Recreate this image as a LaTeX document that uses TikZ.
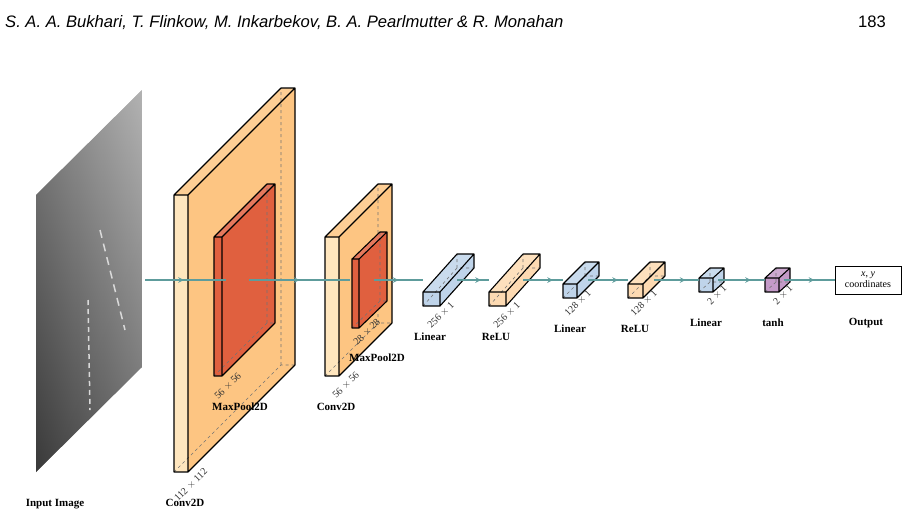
\documentclass[tikz,border=0pt]{standalone}
\usepackage{fontspec}
\setmainfont{Liberation Serif}
\newfontfamily\hdrfont{Liberation Sans}
\usetikzlibrary{calc,decorations.markings}
\definecolor{convfront}{HTML}{FFE6BE}
\definecolor{convside}{HTML}{FDC582}
\definecolor{poolc}{HTML}{E0603F}
\definecolor{linc}{HTML}{BFD4EA}
\definecolor{reluc}{HTML}{FDDAB2}
\definecolor{tanhc}{HTML}{C49AC8}
\definecolor{conn}{HTML}{5E9C9C}
\newcommand\mycub[9]{% name x y w h dx dy front side
 \coordinate (#1A) at (#2,#3);
 \coordinate (#1B) at ($(#1A)+(#4,0)$);
 \coordinate (#1C) at ($(#1B)+(0,#5)$);
 \coordinate (#1D) at ($(#1A)+(0,#5)$);
 \coordinate (#1a) at ($(#1A)+(#6,-#7)$);
 \coordinate (#1b) at ($(#1B)+(#6,-#7)$);
 \coordinate (#1c) at ($(#1C)+(#6,-#7)$);
 \coordinate (#1d) at ($(#1D)+(#6,-#7)$);
 \fill[#9] (#1B)--(#1b)--(#1c)--(#1C)--cycle;
 \fill[#9!85!white] (#1A)--(#1a)--(#1b)--(#1B)--cycle;
 \fill[#8] (#1A)--(#1B)--(#1C)--(#1D)--cycle;
 \draw[hid] (#1D)--(#1d)--(#1c) (#1d)--(#1a);
 \draw[edge] (#1A)--(#1B)--(#1C)--(#1D)--cycle (#1A)--(#1a)--(#1b)--(#1c)--(#1C) (#1B)--(#1b);
}
\tikzset{
 hid/.style={dashed,black!55,line width=0.6pt},
 edge/.style={black,line width=1.1pt,line join=round},
 lab/.style={font=\fontsize{11}{13}\selectfont\bfseries,inner sep=0},
 dim/.style={font=\fontsize{10}{12}\selectfont,rotate=45,inner sep=0,black!80},
 con/.style={conn,line width=1.5pt,postaction={decorate},decoration={markings,mark=at position #1 with {\arrow[conn]{stealth}}}},
 con/.default=0.5
}
\begin{document}
\begin{tikzpicture}[x=1pt,y=-1pt]
\useasboundingbox (0,0) rectangle (917,517);
\node[anchor=base west,inner sep=0,font=\hdrfont\itshape\fontsize{16.6}{18}\selectfont] (hdr) at (5,27) {S. A. A. Bukhari, T. Flinkow, M. Inkarbekov, B. A. Pearlmutter \& R. Monahan};
\node[anchor=base east,inner sep=0,font=\hdrfont\fontsize{16.6}{18}\selectfont] (pg) at (886,27) {183};
% input image
\begin{scope}
\clip (36,195)--(142,90)--(142,367)--(36,472)--cycle;
\shade[left color=black!80,right color=black!40] (36,90) rectangle (142,472);
\shade[top color=black!20,bottom color=black!75,opacity=0.5] (36,90) rectangle (142,472);
\draw[white!85!black,line width=1.5pt,dash pattern=on 5pt off 4pt] (88,300)--(90,410);
\draw[white!85!black,line width=1.5pt,dash pattern=on 8pt off 6pt] (100,230)--(125,330);
\end{scope}
\coordinate (img) at (145,280);
\mycub{cv}{174}{195}{14}{277}{107}{107}{convfront}{convside}
\mycub{mp}{214}{237}{8}{139}{53}{53}{poolc}{poolc}
\mycub{cvb}{325}{237}{14}{139}{53}{53}{convfront}{convside}
\mycub{mpb}{352}{259}{7}{69}{28}{27}{poolc}{poolc}
\coordinate (c1e) at (226,280);
\coordinate (c2s) at (249,280);
\coordinate (c2e) at (350,280);
\coordinate (c3s) at (374,280);
\draw[con=0.48] (img)--(c1e);
\draw[con=0.5] (c2s)--(c2e);
\mycub{l1}{423}{292}{17}{14}{34}{38}{linc}{linc}
\mycub{r1}{489}{292}{17}{14}{34}{38}{reluc}{reluc}
\mycub{l2}{563}{284}{14}{14}{22}{22}{linc}{linc}
\mycub{r2}{628}{284}{15}{14}{22}{22}{reluc}{reluc}
\mycub{l3}{699}{278}{14}{14}{11}{10}{linc}{linc}
\mycub{th}{765}{278}{14}{14}{11}{10}{tanhc}{tanhc}
\node[draw,line width=0.8pt,minimum width=66pt,minimum height=28pt,inner sep=1pt,align=center,font=\fontsize{10}{11}\selectfont] (out) at (868,280) {\textit{x}, \textit{y}\\coordinates};
\coordinate (p1) at (423,280);
\coordinate (p2) at (489,280);
\coordinate (p3) at (563,280);
\coordinate (p4) at (628,280);
\coordinate (p5) at (699,280);
\coordinate (p6) at (765,280);
\coordinate (q1) at (457,280);
\coordinate (q2) at (523,280);
\coordinate (q3) at (588,280);
\coordinate (q4) at (654,280);
\coordinate (q5) at (718,280);
\coordinate (q6) at (784,280);
\draw[con=0.5] (c3s)--(p1);
\draw[con=0.75] (q1)--(p2);
\draw[con=0.75] (q2)--(p3);
\draw[con=0.75] (q3)--(p4);
\draw[con=0.7] (q4)--(p5);
\draw[con=0.7] (q5)--(p6);
\draw[con=0.6] (q6)--(out.west);
\node[lab] (t0) at (55,504) {Input Image};
\node[lab] (t1) at (185,503) {Conv2D};
\node[lab] (t2) at (240,407) {MaxPool2D};
\node[lab] (t3) at (336,407) {Conv2D};
\node[lab] (t4) at (377,358) {MaxPool2D};
\node[lab] (t5) at (430,337) {Linear};
\node[lab] (t6) at (496,337) {ReLU};
\node[lab] (t7) at (570,329) {Linear};
\node[lab] (t8) at (635,329) {ReLU};
\node[lab] (t9) at (706,323) {Linear};
\node[lab] (t10) at (773,323) {tanh};
\node[lab] (t11) at (866,323) {Output};
\node[dim] (d1) at (191,485) {112 $\times$ 112};
\node[dim] (d2) at (228,386) {56 $\times$ 56};
\node[dim] (d3) at (346,385) {56 $\times$ 56};
\node[dim] (d4) at (367,332) {28 $\times$ 28};
\node[dim] (d5) at (441,315) {256 $\times$ 1};
\node[dim] (d6) at (507,315) {256 $\times$ 1};
\node[dim] (d7) at (578,303) {128 $\times$ 1};
\node[dim] (d8) at (644,303) {128 $\times$ 1};
\node[dim] (d9) at (717,295) {2 $\times$ 1};
\node[dim] (d10) at (783,295) {2 $\times$ 1};
\end{tikzpicture}
\end{document}
